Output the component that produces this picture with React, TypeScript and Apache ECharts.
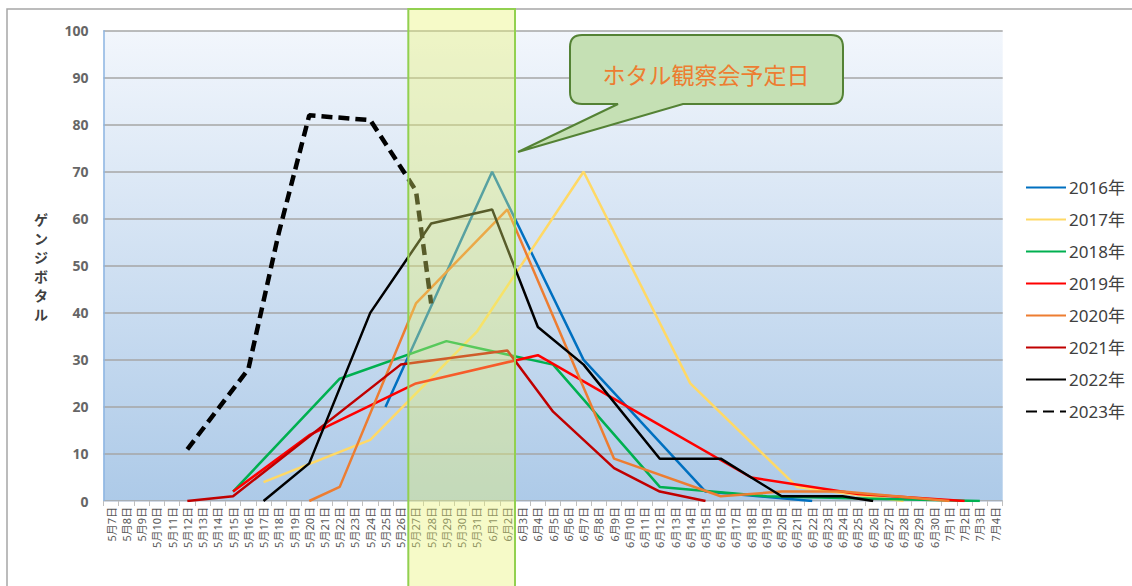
import React, { useEffect, useRef } from "react";
import * as echarts from "echarts";

// ---- categories (5月7日 … 7月4日) ----
const monthSpans: [number, number, number][] = [
  [5, 7, 31],
  [6, 1, 30],
  [7, 1, 4],
];
const categories: string[] = [];
monthSpans.forEach(([m, d0, d1]) => {
  for (let d = d0; d <= d1; d++) categories.push(`${m}月${d}日`);
});

// ---- y ticks ----
const yMin = 0;
const yMax = 100;
const yInterval = 10;

// ---- series values (date, count) ----
const s2016: [string, number][] = [
  ["5月25日", 20], ["6月1日", 70], ["6月7日", 30], ["6月15日", 2], ["6月22日", 0],
];
const s2017: [string, number][] = [
  ["5月17日", 4], ["5月24日", 13], ["5月31日", 36], ["6月7日", 70], ["6月14日", 25],
  ["6月21日", 3], ["6月28日", 0],
];
const s2018: [string, number][] = [
  ["5月15日", 2], ["5月22日", 26], ["5月29日", 34], ["6月5日", 29], ["6月12日", 3],
  ["6月19日", 1], ["6月26日", 0.5], ["7月3日", 0],
];
const s2019: [string, number][] = [
  ["5月15日", 2], ["5月20日", 14], ["5月27日", 25], ["6月4日", 31], ["6月11日", 18],
  ["6月18日", 5], ["6月25日", 1.5], ["7月2日", 0],
];
const s2020: [string, number][] = [
  ["5月20日", 0], ["5月22日", 3], ["5月27日", 42], ["6月2日", 62], ["6月9日", 9],
  ["6月16日", 1], ["6月20日", 2], ["6月24日", 2], ["7月1日", 0],
];
const s2021: [string, number][] = [
  ["5月12日", 0], ["5月15日", 1], ["5月26日", 29], ["6月2日", 32], ["6月5日", 19],
  ["6月9日", 7], ["6月12日", 2], ["6月15日", 0],
];
const s2022: [string, number][] = [
  ["5月17日", 0], ["5月20日", 8], ["5月24日", 40], ["5月28日", 59], ["6月1日", 62],
  ["6月4日", 37], ["6月7日", 29], ["6月12日", 9], ["6月16日", 9], ["6月20日", 1],
  ["6月24日", 1], ["6月26日", 0],
];
const s2023: [string, number][] = [
  ["5月12日", 11], ["5月16日", 28], ["5月18日", 57], ["5月20日", 82], ["5月24日", 81],
  ["5月27日", 66], ["5月28日", 42],
];

const seriesDefs = [
  { name: "2016年", data: s2016, color: "#0070C0", width: 2.5, dash: "solid" },
  { name: "2017年", data: s2017, color: "#FFD966", width: 2.5, dash: "solid" },
  { name: "2018年", data: s2018, color: "#00B050", width: 2.5, dash: "solid" },
  { name: "2019年", data: s2019, color: "#FF0000", width: 2.5, dash: "solid" },
  { name: "2020年", data: s2020, color: "#ED7D31", width: 2.5, dash: "solid" },
  { name: "2021年", data: s2021, color: "#C00000", width: 2.5, dash: "solid" },
  { name: "2022年", data: s2022, color: "#000000", width: 2.5, dash: "solid" },
  { name: "2023年", data: s2023, color: "#000000", width: 4.5, dash: [11, 6] },
];

const bandFrom = "5月27日";
const bandTo = "6月2日";
const calloutText = "ホタル観察会予定日";
const yTitle = "ゲンジボタル";

const CALLOUT_D =
  "M 582 35 H 831 Q 843 35 843 47 V 92 Q 843 104 831 104 H 683 L 518 152 L 618 104 H 582 Q 570 104 570 92 V 47 Q 570 35 582 35 Z";

let registered = false;
function ensureShape() {
  if (registered) return;
  registered = true;
  echarts.graphic.registerShape("callout", echarts.graphic.extendPath(CALLOUT_D, {}));
}

const FONT = "'Noto Sans', 'Noto Sans CJK JP', sans-serif";

export default function App() {
  const ref = useRef<HTMLDivElement>(null);
  useEffect(() => {
    if (!ref.current) return;
    ensureShape();
    const chart = echarts.init(ref.current, undefined, { renderer: "svg" });
    chart.setOption({
      animation: false,
      backgroundColor: "#FFFFFF",
      grid: {
        left: 103.5,
        right: 129.3,
        top: 30.7,
        bottom: 85,
        show: true,
        borderWidth: 0,
        backgroundColor: {
          type: "linear",
          x: 0, y: 0, x2: 0, y2: 1,
          colorStops: [
            { offset: 0, color: "#F2F6FC" },
            { offset: 1, color: "#ADCAE8" },
          ],
        },
      },
      legend: {
        orient: "vertical",
        left: 1020,
        top: 174,
        itemWidth: 40,
        itemHeight: 14,
        itemGap: 15,
        itemStyle: { opacity: 0, borderWidth: 0 },
        textStyle: { fontSize: 17, color: "#404040", fontFamily: FONT, padding: [0, 0, 0, -2] },
        data: seriesDefs.map((s) => s.name),
      },
      xAxis: {
        type: "category",
        data: categories,
        boundaryGap: true,
        axisLine: { show: true, lineStyle: { color: "#D0D8E4", width: 1 } },
        axisTick: { show: true, length: 5, interval: 0, lineStyle: { color: "#BFBFBF" } },
        axisLabel: {
          interval: 0,
          rotate: 90,
          fontSize: 11,
          color: "#595959",
          fontFamily: FONT,
          margin: 6,
        },
        splitLine: { show: false },
      },
      yAxis: {
        type: "value",
        min: yMin,
        max: yMax,
        interval: yInterval,
        axisLine: { show: true, lineStyle: { color: "#8DB4E2", width: 1.5 } },
        axisTick: { show: false },
        axisLabel: {
          fontSize: 14,
          fontWeight: "bold",
          color: "#666666",
          fontFamily: FONT,
          margin: 15,
        },
        splitLine: { show: true, lineStyle: { color: "#A6A6A6", width: 1.5 } },
      },
      series: seriesDefs.map((s) => ({
        name: s.name,
        type: "line",
        data: s.data,
        symbol: "none",
        color: s.color,
        lineStyle: { color: s.color, width: s.width, type: s.dash },
        z: 2,
      })),
    });

    const px = (c: string) => chart.convertToPixel({ xAxisIndex: 0 }, c) as number;
    const step = px(categories[1]) - px(categories[0]);
    const bx0 = px(bandFrom) - step / 2;
    const bx1 = px(bandTo) + step / 2;

    const titleChars = yTitle.split("").map((ch, i) => ({
      type: "text",
      id: "yt" + i,
      x: 41,
      y: 219 + i * 19,
      style: {
        text: ch,
        fontSize: 14,
        lineHeight: 14,
        fontWeight: "bold",
        fill: "#404040",
        fontFamily: "'Noto Sans CJK JP', sans-serif",
        align: "center",
        verticalAlign: "middle",
      },
      silent: true,
      z: 102,
    }));

    chart.setOption({
      graphic: [
        {
          type: "rect",
          id: "frame",
          shape: { x: 7, y: 9, width: 1300, height: 800 },
          style: { fill: "none", stroke: "#A6A6A6", lineWidth: 1.5 },
          silent: true,
          z: 1,
        },
        {
          type: "rect",
          id: "band",
          shape: { x: bx0, y: 9, width: bx1 - bx0, height: 600 },
          style: { fill: "rgba(232,242,110,0.38)", stroke: "#92D050", lineWidth: 2 },
          silent: true,
          z: 100,
        },
        {
          type: "callout",
          id: "callout",
          x: 0,
          y: 0,
          style: { fill: "#C5E0B4", stroke: "#548235", lineWidth: 2 },
          silent: true,
          z: 101,
        },
        {
          type: "text",
          id: "calloutText",
          x: 706,
          y: 74,
          style: {
            text: calloutText,
            fontSize: 23,
            fill: "#ED7D31",
            fontFamily: "'Noto Sans CJK JP', sans-serif",
            align: "center",
            verticalAlign: "middle",
          },
          silent: true,
          z: 102,
        },
        ...titleChars,
      ],
    });

    return () => chart.dispose();
  }, []);
  return (
    <div
      ref={ref}
      style={{ position: "fixed", left: 0, top: 0, width: 1132, height: 586 }}
    />
  );
}
